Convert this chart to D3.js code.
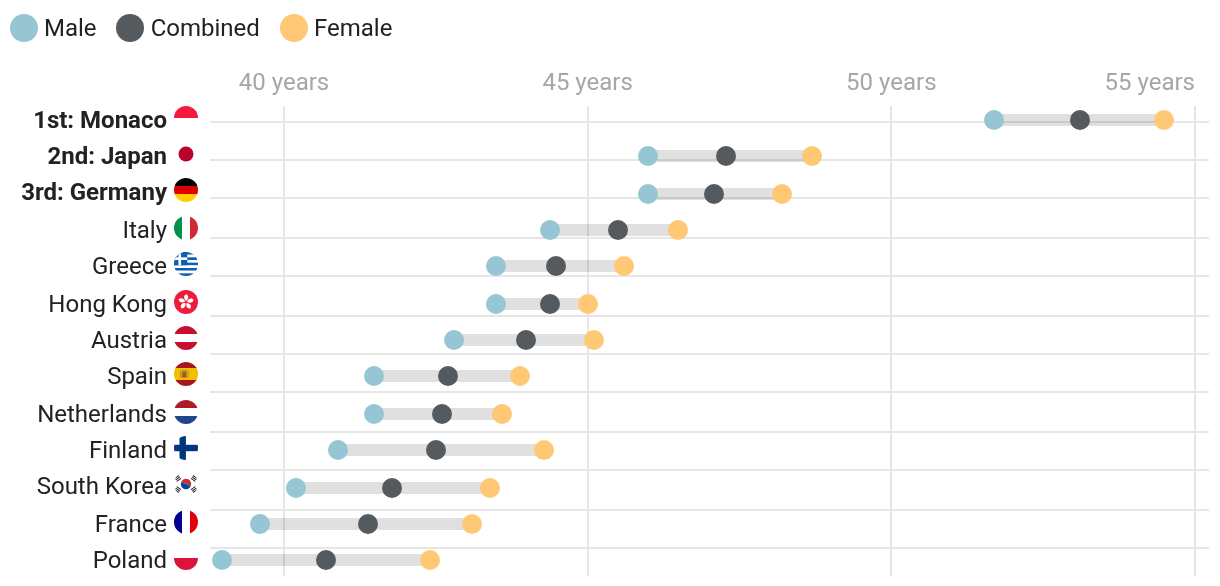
<!DOCTYPE html>
<html>
<head>
<meta charset="utf-8">
<script src="https://cdn.jsdelivr.net/npm/d3@7/dist/d3.min.js"></script>
<style>
html,body{margin:0;padding:0;background:#fff;overflow:hidden}
svg{display:block;font-family:Roboto,sans-serif}
</style>
</head>
<body>
<svg id="c" width="1220" height="586"></svg>
<script>
const countries = ["1st: Monaco","2nd: Japan","3rd: Germany","Italy","Greece","Hong Kong","Austria","Spain","Netherlands","Finland","South Korea","France","Poland"];
const maleValues = [51.7,46.0,46.0,44.4,43.5,43.5,42.8,41.5,41.5,40.9,40.2,39.6,39.0];
const combinedValues = [53.1,47.3,47.1,45.5,44.5,44.4,44.0,42.7,42.6,42.5,41.8,41.4,40.7];
const femaleValues = [54.5,48.7,48.2,46.5,45.6,45.0,45.1,43.9,43.6,44.3,43.4,43.1,42.4];
const boldFlags = [true,true,true,false,false,false,false,false,false,false,false,false,false];
const flagKeys = ["mc","jp","de","it","gr","hk","at","es","nl","fi","kr","fr","pl"];
const tickValues = [40,45,50,55];
const legendNames = ["Male","Combined","Female"];
const legendColors = ["#96c5d4","#555a5e","#ffc875"];

const svg = d3.select("#c");
// the reference snaps everything to even pixels
const snap = v => Math.round(v/2)*2;
const x = d3.scaleLinear().domain([40,55]).range([283.4,1194.4]);
const y = d3.scalePoint().domain(countries).range([120,560.5]);
const labelY = d3.scalePoint().domain(countries).range([119.5,560.14]);
const gridY = d3.scalePoint().domain(countries).range([121,586.6]);
const gridColor = "#e6e6e6";

// legend
const legendCx = d3.scaleOrdinal().domain(legendNames).range([24,130,294]);
const legendDx = [20,20.7,20];
const lg = svg.append("g");
legendNames.forEach((n,i)=>{
  lg.append("circle").attr("cx",legendCx(n)).attr("cy",28).attr("r",14).attr("fill",legendColors[i]);
  lg.append("text").attr("x",legendCx(n)+legendDx[i]).attr("y",36).attr("font-size",24).attr("fill","#222").text(n);
});

// grid (the row line below the last country falls outside the chart)
const grid = svg.append("g");
countries.slice(0,-1).forEach(c=>{
  grid.append("rect").attr("x",210).attr("y",snap(gridY(c))-1).attr("width",999).attr("height",2).attr("fill",gridColor);
});
tickValues.forEach(t=>{
  grid.append("rect").attr("x",Math.round(x(t)+.6)-1).attr("y",106).attr("width",2).attr("height",470).attr("fill",gridColor);
});

// axis labels
svg.append("g").selectAll("text").data(tickValues).join("text")
  .attr("x",d=>x(d)+.6)
  .attr("y",90)
  .attr("text-anchor",d=>d===55?"end":"middle")
  .attr("font-size",24).attr("fill","#a6a6a6")
  .text(d=>d+" years");

// range bars
svg.append("g").selectAll("rect").data(countries).join("rect")
  .attr("x",(d,i)=>snap(x(maleValues[i])))
  .attr("y",d=>snap(y(d))-6)
  .attr("width",(d,i)=>snap(x(femaleValues[i]))-snap(x(maleValues[i])))
  .attr("height",12)
  .attr("fill","#e0e0e0")
  .style("mix-blend-mode","multiply");

// dots
[[maleValues,0],[femaleValues,2],[combinedValues,1]].forEach(([vals,ci])=>{
  svg.append("g").selectAll("circle").data(countries).join("circle")
    .attr("cx",(d,i)=>snap(x(vals[i]))).attr("cy",d=>snap(y(d))).attr("r",10).attr("fill",legendColors[ci]);
});

// labels
svg.append("g").selectAll("text").data(countries).join("text")
  .attr("x",167).attr("y",d=>snap(labelY(d))+8)
  .attr("text-anchor","end").attr("font-size",24)
  .attr("font-weight",(d,i)=>boldFlags[i]?700:400)
  .attr("fill","#222").text(d=>d);

// flags (24px discs, local coordinates -12..12)
const defs = svg.append("defs");
defs.append("clipPath").attr("id","disc").append("circle").attr("r",12);
const R=(g,x0,y0,w,h,f)=>g.append("rect").attr("x",x0).attr("y",y0).attr("width",w).attr("height",h).attr("fill",f);
const bands=(g,cols)=>cols.forEach((c,i)=>R(g,-12,-12+i*24/cols.length,24,24/cols.length+.2,c));
const vbands=(g,cols)=>cols.forEach((c,i)=>R(g,-12+i*24/cols.length,-12,24/cols.length+.2,24,c));
const flagDraw = {
  mc:g=>bands(g,["#f5193a","#fff"]),
  jp:g=>g.append("circle").attr("r",7.5).attr("fill","#bc002d"),
  de:g=>bands(g,["#000","#dd0000","#ffce00"]),
  it:g=>vbands(g,["#009246","#fff","#ce2b37"]),
  gr:g=>{
    const b="#0d5eaf";
    for(let i=0;i<9;i++)R(g,-12,-12+i*24/9,24,24/9+.1,i%2?"#fff":b);
    R(g,-12,-12,13.3,13.3,b);
    R(g,-7.6,-12,2.66,13.3,"#fff");
    R(g,-12,-6.7,13.3,2.66,"#fff");
  },
  hk:g=>{
    R(g,-12,-12,24,24,"#ee1c3a");
    d3.range(5).forEach(i=>{
      g.append("path").attr("d","M0,-1C-3.2,-3 -3.4,-6.5 -0.6,-7.8C1.8,-6.6 2.4,-3.6 0,-1Z")
        .attr("fill","#fff").attr("transform",`rotate(${i*72+8})`);
    });
  },
  at:g=>bands(g,["#c8102e","#fff","#c8102e"]),
  es:g=>{
    bands(g,["#aa151b","#f1bf00","#f1bf00","#aa151b"]);
    R(g,-4.6,-4,5.6,8,"#ad8b2e");
    R(g,-3.6,-1.6,3.6,4.6,"#b5502a");
    R(g,-6,-3,1,6.4,"#a88d4a");
    R(g,1.6,-3,1,6.4,"#a88d4a");
  },
  nl:g=>bands(g,["#ae1c28","#fff","#21468b"]),
  fi:g=>{
    R(g,-12,-3.2,24,6.4,"#003580");
    R(g,-6.5,-12,6.4,24,"#003580");
  },
  kr:g=>{
    g.append("path").attr("d","M-5.2,0A5.2,5.2 0 0 1 5.2,0Z").attr("fill","#cd2e3a").attr("transform","rotate(20)");
    g.append("path").attr("d","M-5.2,0A5.2,5.2 0 0 0 5.2,0Z").attr("fill","#0047a0").attr("transform","rotate(20)");
    [[-8.2,-5.6,-35],[8.2,-5.6,35],[-8.2,5.6,35],[8.2,5.6,-35]].forEach(([a,b,r])=>{
      const t=g.append("g").attr("transform",`translate(${a},${b}) rotate(${r})`);
      [-1.8,0,1.8].forEach(o=>R(t,-2.6,o-.55,5.2,1.1,"#222"));
    });
  },
  fr:g=>vbands(g,["#000091","#fff","#e1000f"]),
  pl:g=>bands(g,["#fff","#dc143c"])
};
const flags = svg.append("g");
flagKeys.forEach((k,i)=>{
  const g=flags.append("g").attr("transform",`translate(186,${snap(labelY(countries[i]))-2})`)
    .append("g").attr("clip-path","url(#disc)");
  flagDraw[k](g);
});
</script>
</body>
</html>
